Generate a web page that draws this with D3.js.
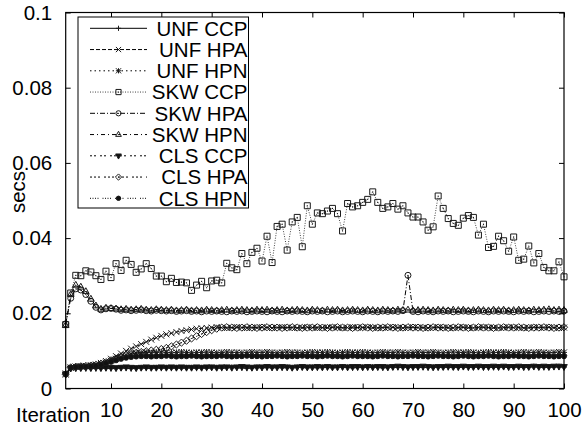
<!DOCTYPE html>
<html>
<head>
<meta charset="utf-8">
<script src="https://cdn.jsdelivr.net/npm/d3@7"></script>
<style>
  html, body { margin: 0; padding: 0; background: #fff; }
  svg { display: block; }
  text { font-family: "Liberation Sans", Arial, sans-serif; font-size: 20.5px; fill: #000; }
</style>
</head>
<body>
<svg id="chart" width="587" height="431"></svg>
<script>
// Iteration numbers on the x axis
const iterations = d3.range(1, 101);

// Tick values and labels
const xTicks = [10, 20, 30, 40, 50, 60, 70, 80, 90, 100];
const yTicks = [0, 0.02, 0.04, 0.06, 0.08, 0.1];
const yTickLabels = ["0", "0.02", "0.04", "0.06", "0.08", "0.1"];

// Series names, in legend order
const seriesNames = ["UNF CCP", "UNF HPA", "UNF HPN", "SKW CCP", "SKW HPA", "SKW HPN", "CLS CCP", "CLS HPA", "CLS HPN"];

// Seconds per iteration
const unfCCP = [
  0.0036,0.0052,0.0053,0.0054,0.0053,0.0054,0.0053,0.0054,0.0054,0.0053,
  0.0054,0.0055,0.0054,0.0053,0.0054,0.0055,0.0054,0.0054,0.0055,0.0054,
  0.0055,0.0054,0.0055,0.0054,0.0055,0.0055,0.0054,0.0055,0.0054,0.0055,
  0.0055,0.0054,0.0055,0.0056,0.0055,0.0055,0.0054,0.0055,0.0056,0.0055,
  0.0056,0.0055,0.0056,0.0055,0.0056,0.0055,0.0056,0.0056,0.0055,0.0056,
  0.0055,0.0056,0.0056,0.0055,0.0056,0.0057,0.0056,0.0055,0.0056,0.0056,
  0.0056,0.0057,0.0056,0.0055,0.0056,0.0057,0.0056,0.0056,0.0057,0.0056,
  0.0057,0.0056,0.0056,0.0057,0.0056,0.0057,0.0056,0.0057,0.0056,0.0057,
  0.0056,0.0057,0.0057,0.0056,0.0057,0.0056,0.0057,0.0057,0.0056,0.0057,
  0.0057,0.0056,0.0057,0.0058,0.0057,0.0056,0.0057,0.0057,0.0058,0.0057
];
const unfHPA = [
  0.0037,0.0055,0.0058,0.0059,0.0060,0.0062,0.0064,0.0068,0.0073,0.0079,
  0.0086,0.0093,0.0100,0.0106,0.0112,0.0118,0.0124,0.0130,0.0135,0.0140,
  0.0144,0.0147,0.0150,0.0153,0.0155,0.0157,0.0159,0.0160,0.0161,0.0162,
  0.0163,0.0162,0.0161,0.0162,0.0163,0.0162,0.0161,0.0162,0.0162,0.0163,
  0.0162,0.0161,0.0162,0.0163,0.0162,0.0162,0.0161,0.0162,0.0163,0.0162,
  0.0161,0.0162,0.0162,0.0163,0.0162,0.0161,0.0162,0.0163,0.0162,0.0162,
  0.0163,0.0162,0.0161,0.0162,0.0162,0.0163,0.0162,0.0161,0.0162,0.0163,
  0.0162,0.0162,0.0161,0.0162,0.0163,0.0162,0.0162,0.0161,0.0162,0.0163,
  0.0162,0.0161,0.0162,0.0163,0.0162,0.0162,0.0161,0.0162,0.0163,0.0162,
  0.0162,0.0161,0.0162,0.0163,0.0162,0.0162,0.0163,0.0162,0.0161,0.0162
];
const unfHPN = [
  0.0040,0.0056,0.0058,0.0059,0.0059,0.0060,0.0062,0.0065,0.0069,0.0074,
  0.0079,0.0084,0.0088,0.0092,0.0094,0.0095,0.0096,0.0095,0.0096,0.0097,
  0.0096,0.0095,0.0096,0.0097,0.0096,0.0095,0.0096,0.0096,0.0097,0.0096,
  0.0095,0.0096,0.0097,0.0096,0.0096,0.0095,0.0096,0.0097,0.0096,0.0096,
  0.0097,0.0096,0.0095,0.0096,0.0097,0.0096,0.0096,0.0095,0.0096,0.0097,
  0.0096,0.0096,0.0097,0.0096,0.0095,0.0096,0.0097,0.0096,0.0096,0.0097,
  0.0096,0.0095,0.0096,0.0097,0.0096,0.0096,0.0097,0.0096,0.0095,0.0096,
  0.0097,0.0096,0.0096,0.0097,0.0096,0.0095,0.0096,0.0097,0.0096,0.0096,
  0.0097,0.0096,0.0095,0.0096,0.0097,0.0096,0.0096,0.0097,0.0096,0.0095,
  0.0096,0.0097,0.0096,0.0096,0.0097,0.0096,0.0095,0.0096,0.0097,0.0096
];
const skwCCP = [
  0.0170,0.0254,0.0301,0.0300,0.0313,0.0310,0.0300,0.0290,0.0312,0.0295,
  0.0332,0.0314,0.0341,0.0330,0.0309,0.0318,0.0332,0.0319,0.0299,0.0299,
  0.0284,0.0293,0.0282,0.0283,0.0281,0.0261,0.0275,0.0285,0.0268,0.0286,
  0.0288,0.0281,0.0333,0.0321,0.0316,0.0359,0.0332,0.0362,0.0373,0.0339,
  0.0405,0.0335,0.0431,0.0437,0.0368,0.0443,0.0455,0.0377,0.0486,0.0437,
  0.0467,0.0465,0.0472,0.0479,0.0465,0.0419,0.0492,0.0483,0.0486,0.0495,
  0.0503,0.0523,0.0495,0.0479,0.0483,0.0492,0.0477,0.0486,0.0467,0.0456,
  0.0456,0.0443,0.0421,0.0430,0.0512,0.0479,0.0452,0.0439,0.0434,0.0453,
  0.0460,0.0455,0.0408,0.0437,0.0375,0.0378,0.0405,0.0393,0.0365,0.0403,
  0.0341,0.0344,0.0379,0.0334,0.0359,0.0322,0.0313,0.0313,0.0337,0.0297
];
const skwHPA = [
  0.0172,0.0240,0.0265,0.0262,0.0250,0.0232,0.0216,0.0209,0.0212,0.0213,
  0.0211,0.0208,0.0209,0.0207,0.0208,0.0209,0.0207,0.0206,0.0208,0.0207,
  0.0206,0.0207,0.0205,0.0206,0.0207,0.0205,0.0206,0.0204,0.0206,0.0205,
  0.0206,0.0205,0.0204,0.0206,0.0205,0.0206,0.0204,0.0205,0.0206,0.0205,
  0.0204,0.0206,0.0205,0.0204,0.0206,0.0205,0.0206,0.0205,0.0204,0.0206,
  0.0205,0.0206,0.0204,0.0205,0.0206,0.0204,0.0205,0.0206,0.0205,0.0204,
  0.0206,0.0205,0.0204,0.0206,0.0205,0.0206,0.0205,0.0207,0.0301,0.0205,
  0.0204,0.0206,0.0205,0.0204,0.0206,0.0205,0.0206,0.0204,0.0205,0.0206,
  0.0205,0.0204,0.0206,0.0205,0.0204,0.0206,0.0205,0.0206,0.0205,0.0204,
  0.0206,0.0205,0.0206,0.0204,0.0205,0.0206,0.0205,0.0206,0.0205,0.0206
];
const skwHPN = [
  0.0168,0.0250,0.0275,0.0270,0.0258,0.0238,0.0220,0.0211,0.0214,0.0213,
  0.0212,0.0210,0.0211,0.0209,0.0210,0.0211,0.0209,0.0208,0.0210,0.0209,
  0.0208,0.0209,0.0207,0.0208,0.0209,0.0207,0.0208,0.0207,0.0209,0.0208,
  0.0207,0.0208,0.0209,0.0207,0.0208,0.0209,0.0208,0.0207,0.0209,0.0208,
  0.0209,0.0207,0.0208,0.0209,0.0207,0.0208,0.0209,0.0208,0.0207,0.0209,
  0.0208,0.0207,0.0209,0.0208,0.0209,0.0207,0.0208,0.0209,0.0208,0.0207,
  0.0209,0.0208,0.0207,0.0209,0.0208,0.0207,0.0209,0.0208,0.0209,0.0207,
  0.0208,0.0209,0.0208,0.0207,0.0209,0.0208,0.0207,0.0209,0.0208,0.0209,
  0.0207,0.0208,0.0209,0.0208,0.0207,0.0209,0.0208,0.0209,0.0207,0.0208,
  0.0209,0.0208,0.0207,0.0209,0.0208,0.0209,0.0210,0.0208,0.0209,0.0208
];
const clsCCP = [
  0.0038,0.0054,0.0055,0.0055,0.0056,0.0055,0.0056,0.0055,0.0056,0.0056,
  0.0055,0.0056,0.0057,0.0056,0.0055,0.0056,0.0057,0.0056,0.0056,0.0057,
  0.0056,0.0057,0.0056,0.0057,0.0056,0.0056,0.0057,0.0056,0.0057,0.0057,
  0.0056,0.0057,0.0057,0.0056,0.0057,0.0058,0.0057,0.0056,0.0057,0.0057,
  0.0058,0.0057,0.0057,0.0058,0.0057,0.0056,0.0057,0.0058,0.0057,0.0057,
  0.0058,0.0057,0.0058,0.0057,0.0057,0.0058,0.0057,0.0058,0.0058,0.0057,
  0.0058,0.0057,0.0058,0.0058,0.0057,0.0058,0.0059,0.0058,0.0057,0.0058,
  0.0058,0.0059,0.0058,0.0057,0.0058,0.0058,0.0059,0.0058,0.0058,0.0059,
  0.0058,0.0058,0.0059,0.0058,0.0058,0.0059,0.0058,0.0059,0.0058,0.0058,
  0.0059,0.0058,0.0058,0.0059,0.0058,0.0059,0.0058,0.0059,0.0059,0.0058
];
const clsHPA = [
  0.0038,0.0056,0.0058,0.0059,0.0060,0.0061,0.0063,0.0066,0.0070,0.0075,
  0.0080,0.0085,0.0089,0.0092,0.0095,0.0097,0.0099,0.0101,0.0103,0.0105,
  0.0108,0.0112,0.0117,0.0122,0.0127,0.0133,0.0139,0.0145,0.0150,0.0155,
  0.0159,0.0162,0.0163,0.0162,0.0161,0.0162,0.0163,0.0162,0.0161,0.0162,
  0.0163,0.0162,0.0162,0.0161,0.0162,0.0163,0.0162,0.0161,0.0162,0.0162,
  0.0163,0.0162,0.0161,0.0162,0.0163,0.0162,0.0162,0.0161,0.0162,0.0163,
  0.0162,0.0161,0.0162,0.0162,0.0163,0.0162,0.0161,0.0162,0.0163,0.0162,
  0.0162,0.0161,0.0162,0.0163,0.0162,0.0162,0.0161,0.0162,0.0163,0.0162,
  0.0161,0.0162,0.0163,0.0162,0.0162,0.0161,0.0162,0.0163,0.0162,0.0162,
  0.0163,0.0162,0.0161,0.0162,0.0162,0.0163,0.0162,0.0161,0.0162,0.0163
];
const clsHPN = [
  0.0039,0.0055,0.0057,0.0058,0.0058,0.0059,0.0060,0.0063,0.0067,0.0071,
  0.0075,0.0079,0.0082,0.0084,0.0085,0.0086,0.0086,0.0085,0.0086,0.0086,
  0.0087,0.0086,0.0085,0.0086,0.0086,0.0087,0.0086,0.0085,0.0086,0.0086,
  0.0086,0.0087,0.0086,0.0085,0.0086,0.0086,0.0087,0.0086,0.0086,0.0085,
  0.0086,0.0086,0.0087,0.0086,0.0085,0.0086,0.0086,0.0087,0.0086,0.0086,
  0.0085,0.0086,0.0087,0.0086,0.0086,0.0085,0.0086,0.0087,0.0086,0.0086,
  0.0086,0.0085,0.0086,0.0087,0.0086,0.0086,0.0085,0.0086,0.0086,0.0087,
  0.0086,0.0086,0.0085,0.0086,0.0087,0.0086,0.0086,0.0085,0.0086,0.0087,
  0.0086,0.0085,0.0086,0.0086,0.0087,0.0086,0.0085,0.0086,0.0086,0.0087,
  0.0086,0.0086,0.0085,0.0086,0.0087,0.0086,0.0086,0.0085,0.0086,0.0086
];

const seriesValues = [unfCCP, unfHPA, unfHPN, skwCCP, skwHPA, skwHPN, clsCCP, clsHPA, clsHPN];

// Line dash patterns and point shapes, one per series
const dashes = ["", "4,2", "1.5,3", "1,1.5", "5,2,1,2", "4,3,1,3", "2,2,2,4", "2,2,2,2,2,4", "1,1.5,1,1.5,1,1.5,1,4"];
const shapes = ["plus", "cross", "star", "box", "circle", "triangle", "invTriFilled", "diamond", "dotFilled"];

const svg = d3.select("#chart");
const plot = { left: 65.7, right: 564, top: 12.5, bottom: 388.5 };

const x = d3.scaleLinear().domain([1, 100]).range([plot.left, plot.right]);
const y = d3.scaleLinear().domain([0, 0.1]).range([plot.bottom, plot.top]);

// Point glyph paths, centred on 0,0
function glyph(shape, h) {
  const dot = r => `M${-r},0a${r},${r} 0 1,0 ${2*r},0a${r},${r} 0 1,0 ${-2*r},0Z`;
  switch (shape) {
    case "plus": return `M${-h},0H${h}M0,${-h}V${h}`;
    case "cross": return `M${-h},${-h}L${h},${h}M${-h},${h}L${h},${-h}`;
    case "star": return `M${-h},0H${h}M0,${-h}V${h}M${-h},${-h}L${h},${h}M${-h},${h}L${h},${-h}`;
    case "box": return `M${-h},${-h}H${h}V${h}H${-h}Z`;
    case "circle": return dot(h);
    case "triangle": return `M0,${-h*1.25}L${h*1.1},${h*0.7}L${-h*1.1},${h*0.7}Z`;
    case "invTriFilled": return `M0,${h*1.25}L${h*1.1},${-h*0.7}L${-h*1.1},${-h*0.7}Z`;
    case "diamond": return `M0,${-h*1.2}L${h*1.2},0L0,${h*1.2}L${-h*1.2},0Z`;
    case "dotFilled": return dot(h*0.85);
  }
}
const filled = s => s === "invTriFilled" || s === "dotFilled";
const centreDot = s => s === "box" || s === "circle" || s === "triangle" || s === "diamond";

function drawPoint(g, shape, cx, cy, h) {
  g.append("path")
    .attr("transform", `translate(${cx},${cy})`)
    .attr("d", glyph(shape, h))
    .attr("fill", filled(shape) ? "#111" : "none")
    .attr("stroke", "#1a1a1a")
    .attr("stroke-width", 1);
  if (centreDot(shape)) {
    g.append("circle").attr("cx", cx).attr("cy", cy).attr("r", 0.6).attr("fill", "#111");
  }
}

// Data series: line first, then its points
const line = d3.line().x((d, i) => x(iterations[i])).y(d => y(d));
const dataLayer = svg.append("g");
seriesValues.forEach((vals, k) => {
  const g = dataLayer.append("g");
  g.append("path")
    .attr("d", line(vals))
    .attr("fill", "none")
    .attr("stroke", k === 3 ? "#444" : "#000")
    .attr("stroke-width", 1)
    .attr("stroke-dasharray", dashes[k] || null);
  vals.forEach((v, i) => drawPoint(g, shapes[k], x(iterations[i]), y(v), 3));
});

// Axes with inward ticks on all four sides
const fmtY = d => yTickLabels[yTicks.indexOf(d)];
const bottomAxis = svg.append("g").attr("transform", `translate(0,${plot.bottom})`)
  .call(d3.axisBottom(x).tickValues(xTicks).tickSizeInner(-5).tickSizeOuter(0).tickPadding(14));
const topAxis = svg.append("g").attr("transform", `translate(0,${plot.top})`)
  .call(d3.axisTop(x).tickValues(xTicks).tickSizeInner(-5).tickSizeOuter(0).tickFormat(""));
const leftAxis = svg.append("g").attr("transform", `translate(${plot.left},0)`)
  .call(d3.axisLeft(y).tickValues(yTicks).tickSizeInner(-5).tickSizeOuter(0).tickPadding(13.5).tickFormat(fmtY));
const rightAxis = svg.append("g").attr("transform", `translate(${plot.right},0)`)
  .call(d3.axisRight(y).tickValues(yTicks).tickSizeInner(-5).tickSizeOuter(0).tickFormat(""));

[bottomAxis, topAxis, leftAxis, rightAxis].forEach(a => {
  a.select(".domain").remove();
  a.selectAll("line").attr("stroke", "#000").attr("stroke-width", 1);
  a.selectAll("text")
    .style("font-family", '"Liberation Sans", Arial, sans-serif')
    .style("font-size", "20.5px")
    .attr("fill", "#000");
});

// Plot frame
svg.append("rect")
  .attr("x", plot.left).attr("y", plot.top)
  .attr("width", plot.right - plot.left).attr("height", plot.bottom - plot.top)
  .attr("fill", "none").attr("stroke", "#000").attr("stroke-width", 1.2);

// Axis titles
svg.append("text").attr("x", 16).attr("y", 422).text("Iteration");
svg.append("text")
  .attr("transform", "translate(25,192) rotate(-90)")
  .attr("text-anchor", "middle")
  .text("secs");

// Legend
const legend = svg.append("g");
legend.append("rect")
  .attr("x", 78).attr("y", 17).attr("width", 170.5).attr("height", 191)
  .attr("fill", "#fff").attr("stroke", "#000").attr("stroke-width", 1);
seriesNames.forEach((name, k) => {
  const cy = 28.3 + k * 21.25;
  legend.append("line")
    .attr("x1", 90).attr("x2", 147).attr("y1", cy).attr("y2", cy)
    .attr("stroke", k === 3 ? "#444" : "#000").attr("stroke-width", 1)
    .attr("stroke-dasharray", dashes[k] || null);
  drawPoint(legend, shapes[k], 118.5, cy, 2.6);
  legend.append("text")
    .attr("x", 247.5).attr("y", cy + 7.3)
    .attr("text-anchor", "end")
    .text(name);
});
</script>
</body>
</html>
